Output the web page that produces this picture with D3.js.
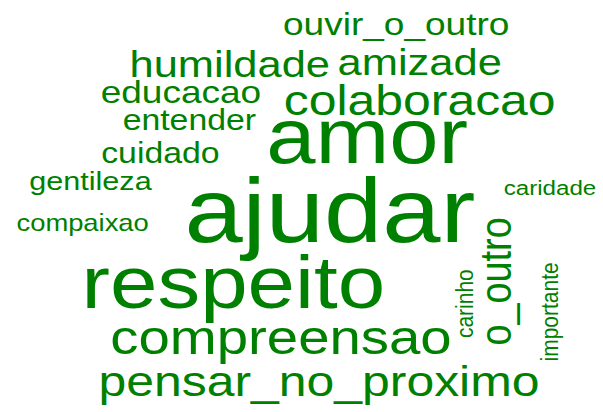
<!DOCTYPE html>
<html>
<head>
<meta charset="utf-8">
<script src="https://cdn.jsdelivr.net/npm/d3@7"></script>
<style>
  body { margin: 0; background: #fff; }
  svg { display: block; }
</style>
</head>
<body>
<svg id="cloud" width="603" height="412"></svg>
<script>
// words and their counts
var words = ["ajudar", "amor", "respeito", "compreensao", "colaboracao", "pensar_no_proximo",
  "amizade", "humildade", "o_outro", "ouvir_o_outro", "educacao", "entender", "cuidado",
  "gentileza", "compaixao", "caridade", "importante", "carinho"];
var freqs = [26, 21, 20, 11, 9, 9, 7, 7, 7, 5, 5, 4, 4, 3, 2, 1, 1, 1];

// where the cloud layout put each word (fraction of width / height), and rotation
var placeX = [0.547, 0.609, 0.387, 0.466, 0.696, 0.529,
  0.696, 0.381, 0.847, 0.657, 0.300, 0.314, 0.266,
  0.150, 0.137, 0.912, 0.925, 0.784];
var placeY = [0.587, 0.396, 0.748, 0.859, 0.279, 0.961,
  0.182, 0.187, 0.683, 0.085, 0.250, 0.316, 0.396,
  0.461, 0.561, 0.473, 0.757, 0.737];
var rotated = [0, 0, 0, 0, 0, 0, 0, 0, 1, 0, 0, 0, 0, 0, 0, 0, 1, 1];

var svg = d3.select("#cloud"),
    width = +svg.attr("width"),
    height = +svg.attr("height");

var x = d3.scaleLinear().domain([0, 1]).range([0, width]);
var y = d3.scaleLinear().domain([0, 1]).range([0, height]);
var size = d3.scaleLinear().domain([1, 26]).range([21, 91]);

var stretch = 1.15; // picture is a bit wider than tall

var data = words.map(function(w, i) {
  return {text: w, freq: freqs[i], px: placeX[i], py: placeY[i], rot: rotated[i]};
});

svg.append("g")
  .selectAll("text")
  .data(data)
  .enter().append("text")
  .attr("text-anchor", "middle")
  .attr("fill", "#008000")
  .style("font-family", "'Liberation Sans', Arial, sans-serif")
  .style("font-size", function(d) { return size(d.freq) + "px"; })
  .attr("transform", function(d) {
    return "translate(" + x(d.px) + "," + y(d.py) + ") scale(" + stretch + ",1)" +
      (d.rot ? " rotate(-90)" : "");
  })
  .text(function(d) { return d.text; });
</script>
</body>
</html>
